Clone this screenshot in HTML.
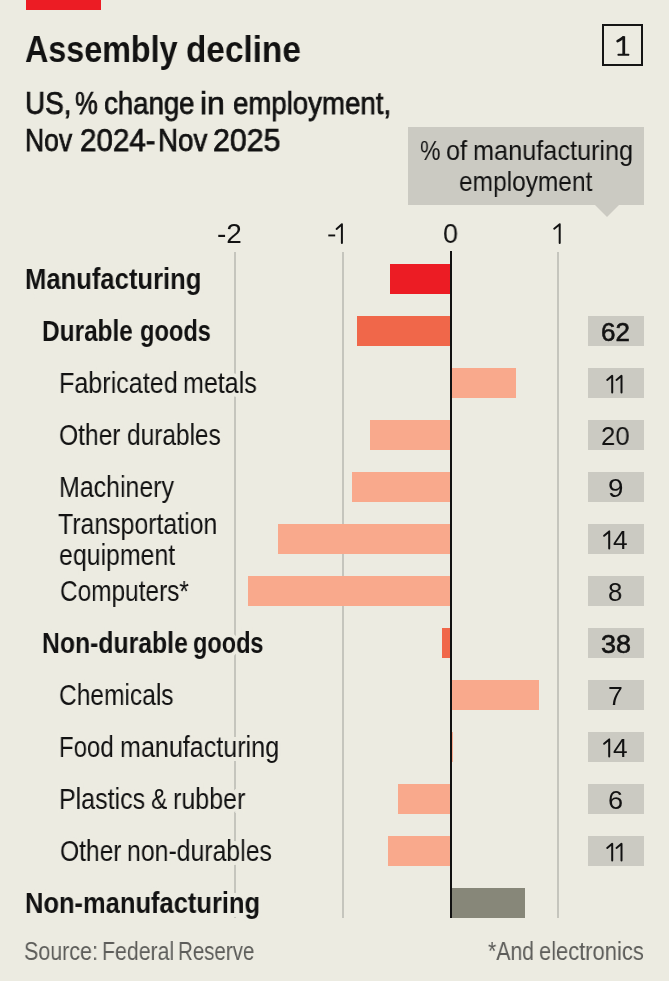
<!DOCTYPE html>
<html><head><meta charset="utf-8"><style>
html,body{margin:0;padding:0;}
body{width:669px;height:981px;background:#ecebe1;position:relative;overflow:hidden;}
.r{position:absolute;}
.t{position:absolute;white-space:nowrap;transform-origin:0 0;will-change:transform;}
</style></head><body>
<div class="r" style="left:25.5px;top:0;width:75px;height:10px;background:#ec1c24"></div>
<div class="r" style="left:602px;top:24.4px;width:41.3px;height:41.9px;border:2px solid #151515;box-sizing:border-box"></div>
<div class="r" style="left:408.2px;top:126.6px;width:235.6px;height:78px;background:#cbcac2"></div>
<div class="r" style="left:594.6px;top:204.6px;width:0;height:0;border-left:12.3px solid transparent;border-right:12.3px solid transparent;border-top:12px solid #cbcac2"></div>
<div class="r" style="left:234.20px;top:251.5px;width:2px;height:666.5px;background:#c5c5bd"></div>
<div class="r" style="left:342.00px;top:251.5px;width:2px;height:666.5px;background:#c5c5bd"></div>
<div class="r" style="left:557.00px;top:251.5px;width:2px;height:666.5px;background:#c5c5bd"></div>
<div id="title_0" class="t" style="left:24.58px;top:31.27px;font-size:37px;line-height:37px;font-weight:700;color:#121212;font-family:'Liberation Sans', sans-serif;transform:scaleX(0.8724);">Assembly</div>
<div id="title_1" class="t" style="left:185.55px;top:31.27px;font-size:37px;line-height:37px;font-weight:700;color:#121212;font-family:'Liberation Sans', sans-serif;transform:scaleX(0.9008);">decline</div>
<div id="sub1_0" class="t" style="left:24.97px;top:87.78px;font-size:30.5px;line-height:30.5px;font-weight:400;color:#121212;font-family:'Liberation Sans', sans-serif;transform:scaleX(0.9165);-webkit-text-stroke:0.75px #121212;">US,</div>
<div id="sub1_1" class="t" style="left:75.16px;top:87.78px;font-size:30.5px;line-height:30.5px;font-weight:400;color:#121212;font-family:'Liberation Sans', sans-serif;transform:scaleX(0.8400);-webkit-text-stroke:0.75px #121212;">%</div>
<div id="sub1_2" class="t" style="left:103.54px;top:87.78px;font-size:30.5px;line-height:30.5px;font-weight:400;color:#121212;font-family:'Liberation Sans', sans-serif;transform:scaleX(0.9042);-webkit-text-stroke:0.75px #121212;">change</div>
<div id="sub1_3" class="t" style="left:199.63px;top:87.78px;font-size:30.5px;line-height:30.5px;font-weight:400;color:#121212;font-family:'Liberation Sans', sans-serif;transform:scaleX(1.0501);-webkit-text-stroke:0.75px #121212;">in</div>
<div id="sub1_4" class="t" style="left:232.70px;top:87.78px;font-size:30.5px;line-height:30.5px;font-weight:400;color:#121212;font-family:'Liberation Sans', sans-serif;transform:scaleX(0.9053);-webkit-text-stroke:0.75px #121212;">employment,</div>
<div id="sub2_0" class="t" style="left:25.42px;top:125.38px;font-size:30.5px;line-height:30.5px;font-weight:400;color:#121212;font-family:'Liberation Sans', sans-serif;transform:scaleX(0.8693);-webkit-text-stroke:0.75px #121212;">Nov</div>
<div id="sub2_1" class="t" style="left:79.74px;top:125.38px;font-size:30.5px;line-height:30.5px;font-weight:400;color:#121212;font-family:'Liberation Sans', sans-serif;transform:scaleX(0.9685);-webkit-text-stroke:0.75px #121212;">2024-</div>
<div id="sub2_2" class="t" style="left:157.74px;top:125.38px;font-size:30.5px;line-height:30.5px;font-weight:400;color:#121212;font-family:'Liberation Sans', sans-serif;transform:scaleX(0.9096);-webkit-text-stroke:0.75px #121212;">Nov</div>
<div id="sub2_3" class="t" style="left:213.20px;top:125.38px;font-size:30.5px;line-height:30.5px;font-weight:400;color:#121212;font-family:'Liberation Sans', sans-serif;transform:scaleX(0.9925);-webkit-text-stroke:0.75px #121212;">2025</div>
<div id="ax-2" class="t" style="left:217.00px;top:219.59px;font-size:28px;line-height:28px;font-weight:400;color:#121212;font-family:'Liberation Sans', sans-serif;transform:scaleX(1.0000);">-2</div>
<div id="ax0" class="t" style="left:443.44px;top:219.59px;font-size:28px;line-height:28px;font-weight:400;color:#121212;font-family:'Liberation Sans', sans-serif;transform:scaleX(0.9631);">0</div>
<div id="lab1_0" class="t" style="left:420.27px;top:137.19px;font-size:28px;line-height:28px;font-weight:400;color:#121212;font-family:'Liberation Sans', sans-serif;transform:scaleX(0.8224);">%</div>
<div id="lab1_1" class="t" style="left:446.14px;top:137.19px;font-size:28px;line-height:28px;font-weight:400;color:#121212;font-family:'Liberation Sans', sans-serif;transform:scaleX(0.9007);">of</div>
<div id="lab1_2" class="t" style="left:472.80px;top:137.19px;font-size:28px;line-height:28px;font-weight:400;color:#121212;font-family:'Liberation Sans', sans-serif;transform:scaleX(0.9029);">manufacturing</div>
<div id="lab2" class="t" style="left:459.29px;top:167.89px;font-size:28px;line-height:28px;font-weight:400;color:#121212;font-family:'Liberation Sans', sans-serif;transform:scaleX(0.8742);">employment</div>
<div id="src_0" class="t" style="left:23.93px;top:939.41px;font-size:25.5px;line-height:25.5px;font-weight:400;color:#5d5d5a;font-family:'Liberation Sans', sans-serif;transform:scaleX(0.8420);">Source:</div>
<div id="src_1" class="t" style="left:101.99px;top:939.41px;font-size:25.5px;line-height:25.5px;font-weight:400;color:#5d5d5a;font-family:'Liberation Sans', sans-serif;transform:scaleX(0.8359);">Federal</div>
<div id="src_2" class="t" style="left:178.45px;top:939.41px;font-size:25.5px;line-height:25.5px;font-weight:400;color:#5d5d5a;font-family:'Liberation Sans', sans-serif;transform:scaleX(0.8040);">Reserve</div>
<div id="note_0" class="t" style="left:488.27px;top:939.21px;font-size:25.5px;line-height:25.5px;font-weight:400;color:#5d5d5a;font-family:'Liberation Sans', sans-serif;transform:scaleX(0.8324);">*And</div>
<div id="note_1" class="t" style="left:539.06px;top:939.21px;font-size:25.5px;line-height:25.5px;font-weight:400;color:#5d5d5a;font-family:'Liberation Sans', sans-serif;transform:scaleX(0.8593);">electronics</div>
<div class="r" style="left:389.50px;top:263.60px;width:61.10px;height:30.8px;background:#ec1c24"></div>
<div id="row0" class="t" style="left:25.07px;top:265.05px;font-size:29px;line-height:29px;font-weight:700;color:#121212;font-family:'Liberation Sans', sans-serif;transform:scaleX(0.8832);-webkit-text-stroke:8px #ecebe1;paint-order:stroke fill;">Manufacturing</div>
<div class="r" style="left:356.70px;top:315.60px;width:93.90px;height:30.8px;background:#f0674a"></div>
<div class="r" style="left:587.9px;top:315.60px;width:55.8px;height:30.8px;background:#cbcac2"></div>
<div id="row1_0" class="t" style="left:41.93px;top:317.05px;font-size:29px;line-height:29px;font-weight:700;color:#121212;font-family:'Liberation Sans', sans-serif;transform:scaleX(0.8417);-webkit-text-stroke:8px #ecebe1;paint-order:stroke fill;">Durable</div>
<div id="row1_1" class="t" style="left:140.04px;top:317.05px;font-size:29px;line-height:29px;font-weight:700;color:#121212;font-family:'Liberation Sans', sans-serif;transform:scaleX(0.8153);-webkit-text-stroke:8px #ecebe1;paint-order:stroke fill;">goods</div>
<div id="nb1" class="t" style="left:600.71px;top:318.69px;font-size:26px;line-height:26px;font-weight:400;color:#121212;font-family:'Liberation Sans', sans-serif;transform:scaleX(0.9968);-webkit-text-stroke:0.6px #121212;">62</div>
<div class="r" style="left:450.60px;top:367.60px;width:65.50px;height:30.8px;background:#f9a98c"></div>
<div class="r" style="left:587.9px;top:367.60px;width:55.8px;height:30.8px;background:#cbcac2"></div>
<div id="row2_0" class="t" style="left:58.72px;top:369.05px;font-size:29px;line-height:29px;font-weight:400;color:#121212;font-family:'Liberation Sans', sans-serif;transform:scaleX(0.8661);-webkit-text-stroke:8px #ecebe1;paint-order:stroke fill;">Fabricated</div>
<div id="row2_1" class="t" style="left:183.43px;top:369.05px;font-size:29px;line-height:29px;font-weight:400;color:#121212;font-family:'Liberation Sans', sans-serif;transform:scaleX(0.8635);-webkit-text-stroke:8px #ecebe1;paint-order:stroke fill;">metals</div>
<div class="r" style="left:369.90px;top:419.60px;width:80.70px;height:30.8px;background:#f9a98c"></div>
<div class="r" style="left:587.9px;top:419.60px;width:55.8px;height:30.8px;background:#cbcac2"></div>
<div id="row3_0" class="t" style="left:58.62px;top:421.05px;font-size:29px;line-height:29px;font-weight:400;color:#121212;font-family:'Liberation Sans', sans-serif;transform:scaleX(0.8490);-webkit-text-stroke:8px #ecebe1;paint-order:stroke fill;">Other</div>
<div id="row3_1" class="t" style="left:127.16px;top:421.05px;font-size:29px;line-height:29px;font-weight:400;color:#121212;font-family:'Liberation Sans', sans-serif;transform:scaleX(0.8432);-webkit-text-stroke:8px #ecebe1;paint-order:stroke fill;">durables</div>
<div id="nb3" class="t" style="left:601.11px;top:422.69px;font-size:26px;line-height:26px;font-weight:400;color:#121212;font-family:'Liberation Sans', sans-serif;transform:scaleX(0.9889);">20</div>
<div class="r" style="left:351.50px;top:471.60px;width:99.10px;height:30.8px;background:#f9a98c"></div>
<div class="r" style="left:587.9px;top:471.60px;width:55.8px;height:30.8px;background:#cbcac2"></div>
<div id="row4" class="t" style="left:58.51px;top:473.05px;font-size:29px;line-height:29px;font-weight:400;color:#121212;font-family:'Liberation Sans', sans-serif;transform:scaleX(0.8599);-webkit-text-stroke:8px #ecebe1;paint-order:stroke fill;">Machinery</div>
<div id="nb4" class="t" style="left:607.75px;top:474.69px;font-size:26px;line-height:26px;font-weight:400;color:#121212;font-family:'Liberation Sans', sans-serif;transform:scaleX(1.0686);">9</div>
<div class="r" style="left:278.10px;top:523.60px;width:172.50px;height:30.8px;background:#f9a98c"></div>
<div class="r" style="left:587.9px;top:523.60px;width:55.8px;height:30.8px;background:#cbcac2"></div>
<div id="row5a" class="t" style="left:57.92px;top:509.95px;font-size:29px;line-height:29px;font-weight:400;color:#121212;font-family:'Liberation Sans', sans-serif;transform:scaleX(0.8568);-webkit-text-stroke:8px #ecebe1;paint-order:stroke fill;">Transportation</div>
<div id="row5b" class="t" style="left:58.82px;top:540.85px;font-size:29px;line-height:29px;font-weight:400;color:#121212;font-family:'Liberation Sans', sans-serif;transform:scaleX(0.8582);-webkit-text-stroke:8px #ecebe1;paint-order:stroke fill;">equipment</div>
<div id="nb5" class="t" style="left:612.92px;top:526.69px;font-size:26px;line-height:26px;font-weight:400;color:#121212;font-family:'Liberation Sans', sans-serif;transform:scaleX(1.0101);">4</div>
<div class="r" style="left:248.20px;top:575.60px;width:202.40px;height:30.8px;background:#f9a98c"></div>
<div class="r" style="left:587.9px;top:575.60px;width:55.8px;height:30.8px;background:#cbcac2"></div>
<div id="row6" class="t" style="left:59.54px;top:577.05px;font-size:29px;line-height:29px;font-weight:400;color:#121212;font-family:'Liberation Sans', sans-serif;transform:scaleX(0.8417);-webkit-text-stroke:8px #ecebe1;paint-order:stroke fill;">Computers*</div>
<div id="nb6" class="t" style="left:607.82px;top:578.69px;font-size:26px;line-height:26px;font-weight:400;color:#121212;font-family:'Liberation Sans', sans-serif;transform:scaleX(0.9864);">8</div>
<div class="r" style="left:441.60px;top:627.60px;width:9.00px;height:30.8px;background:#f0674a"></div>
<div class="r" style="left:587.9px;top:627.60px;width:55.8px;height:30.8px;background:#cbcac2"></div>
<div id="row7_0" class="t" style="left:41.91px;top:629.05px;font-size:29px;line-height:29px;font-weight:700;color:#121212;font-family:'Liberation Sans', sans-serif;transform:scaleX(0.8539);-webkit-text-stroke:8px #ecebe1;paint-order:stroke fill;">Non-durable</div>
<div id="row7_1" class="t" style="left:193.38px;top:629.05px;font-size:29px;line-height:29px;font-weight:700;color:#121212;font-family:'Liberation Sans', sans-serif;transform:scaleX(0.8097);-webkit-text-stroke:8px #ecebe1;paint-order:stroke fill;">goods</div>
<div id="nb7" class="t" style="left:600.76px;top:630.69px;font-size:26px;line-height:26px;font-weight:400;color:#121212;font-family:'Liberation Sans', sans-serif;transform:scaleX(1.0370);-webkit-text-stroke:0.6px #121212;">38</div>
<div class="r" style="left:450.60px;top:679.60px;width:88.40px;height:30.8px;background:#f9a98c"></div>
<div class="r" style="left:587.9px;top:679.60px;width:55.8px;height:30.8px;background:#cbcac2"></div>
<div id="row8" class="t" style="left:58.77px;top:681.05px;font-size:29px;line-height:29px;font-weight:400;color:#121212;font-family:'Liberation Sans', sans-serif;transform:scaleX(0.8466);-webkit-text-stroke:8px #ecebe1;paint-order:stroke fill;">Chemicals</div>
<div id="nb8" class="t" style="left:608.28px;top:682.69px;font-size:26px;line-height:26px;font-weight:400;color:#121212;font-family:'Liberation Sans', sans-serif;transform:scaleX(1.0252);">7</div>
<div class="r" style="left:450.60px;top:731.60px;width:2.60px;height:30.8px;background:#f9a98c"></div>
<div class="r" style="left:587.9px;top:731.60px;width:55.8px;height:30.8px;background:#cbcac2"></div>
<div id="row9_0" class="t" style="left:58.57px;top:733.05px;font-size:29px;line-height:29px;font-weight:400;color:#121212;font-family:'Liberation Sans', sans-serif;transform:scaleX(0.8272);-webkit-text-stroke:8px #ecebe1;paint-order:stroke fill;">Food</div>
<div id="row9_1" class="t" style="left:120.29px;top:733.05px;font-size:29px;line-height:29px;font-weight:400;color:#121212;font-family:'Liberation Sans', sans-serif;transform:scaleX(0.8658);-webkit-text-stroke:8px #ecebe1;paint-order:stroke fill;">manufacturing</div>
<div id="nb9" class="t" style="left:612.92px;top:734.69px;font-size:26px;line-height:26px;font-weight:400;color:#121212;font-family:'Liberation Sans', sans-serif;transform:scaleX(1.0101);">4</div>
<div class="r" style="left:397.70px;top:783.60px;width:52.90px;height:30.8px;background:#f9a98c"></div>
<div class="r" style="left:587.9px;top:783.60px;width:55.8px;height:30.8px;background:#cbcac2"></div>
<div id="row10_0" class="t" style="left:58.50px;top:785.05px;font-size:29px;line-height:29px;font-weight:400;color:#121212;font-family:'Liberation Sans', sans-serif;transform:scaleX(0.8613);-webkit-text-stroke:8px #ecebe1;paint-order:stroke fill;">Plastics</div>
<div id="row10_1" class="t" style="left:151.18px;top:785.05px;font-size:29px;line-height:29px;font-weight:400;color:#121212;font-family:'Liberation Sans', sans-serif;transform:scaleX(0.8442);-webkit-text-stroke:8px #ecebe1;paint-order:stroke fill;">&amp;</div>
<div id="row10_2" class="t" style="left:172.89px;top:785.05px;font-size:29px;line-height:29px;font-weight:400;color:#121212;font-family:'Liberation Sans', sans-serif;transform:scaleX(0.8630);-webkit-text-stroke:8px #ecebe1;paint-order:stroke fill;">rubber</div>
<div id="nb10" class="t" style="left:608.26px;top:786.69px;font-size:26px;line-height:26px;font-weight:400;color:#121212;font-family:'Liberation Sans', sans-serif;transform:scaleX(1.0433);">6</div>
<div class="r" style="left:388.20px;top:835.60px;width:62.40px;height:30.8px;background:#f9a98c"></div>
<div class="r" style="left:587.9px;top:835.60px;width:55.8px;height:30.8px;background:#cbcac2"></div>
<div id="row11_0" class="t" style="left:59.54px;top:837.05px;font-size:29px;line-height:29px;font-weight:400;color:#121212;font-family:'Liberation Sans', sans-serif;transform:scaleX(0.8490);-webkit-text-stroke:8px #ecebe1;paint-order:stroke fill;">Other</div>
<div id="row11_1" class="t" style="left:126.52px;top:837.05px;font-size:29px;line-height:29px;font-weight:400;color:#121212;font-family:'Liberation Sans', sans-serif;transform:scaleX(0.8560);-webkit-text-stroke:8px #ecebe1;paint-order:stroke fill;">non-durables</div>
<div class="r" style="left:450.60px;top:887.60px;width:74.50px;height:30.8px;background:#878779"></div>
<div id="row12" class="t" style="left:25.08px;top:889.05px;font-size:29px;line-height:29px;font-weight:700;color:#121212;font-family:'Liberation Sans', sans-serif;transform:scaleX(0.8788);-webkit-text-stroke:8px #ecebe1;paint-order:stroke fill;">Non-manufacturing</div>
<div class="r" style="left:449.6px;top:251px;width:2.3px;height:667px;background:#111"></div>
<svg class="r" style="left:0;top:0" width="669" height="981" viewBox="0 0 669 981"><g fill="none" stroke="#121212" stroke-width="2.0" stroke-linejoin="round" stroke-linecap="round"><path d="M336.60 228.90L341.90 224.20L341.90 243.00"/><path d="M554.20 228.70L559.70 224.20L559.70 243.00"/><path d="M607.20 379.90L612.20 375.80L612.20 392.60"/><path d="M616.50 379.90L621.50 375.80L621.50 392.60"/><path d="M604.10 535.80L609.20 531.40L609.20 548.50"/><path d="M604.10 743.80L609.20 739.40L609.20 756.50"/><path d="M607.20 847.90L612.20 843.80L612.20 860.60"/><path d="M616.50 847.90L621.50 843.80L621.50 860.60"/></g><rect x="328.3" y="234.5" width="6.9" height="1.9" fill="#121212"/><g fill="#151515"><rect x="622.35" y="36.3" width="2.8" height="18.6"/><rect x="617.6" y="53.7" width="11.6" height="2.05" rx="0.5"/><path d="M623.4 37.4Q620.5 39.6 617.6 41.2" fill="none" stroke="#151515" stroke-width="2.6" stroke-linecap="round"/></g></svg>
</body></html>
